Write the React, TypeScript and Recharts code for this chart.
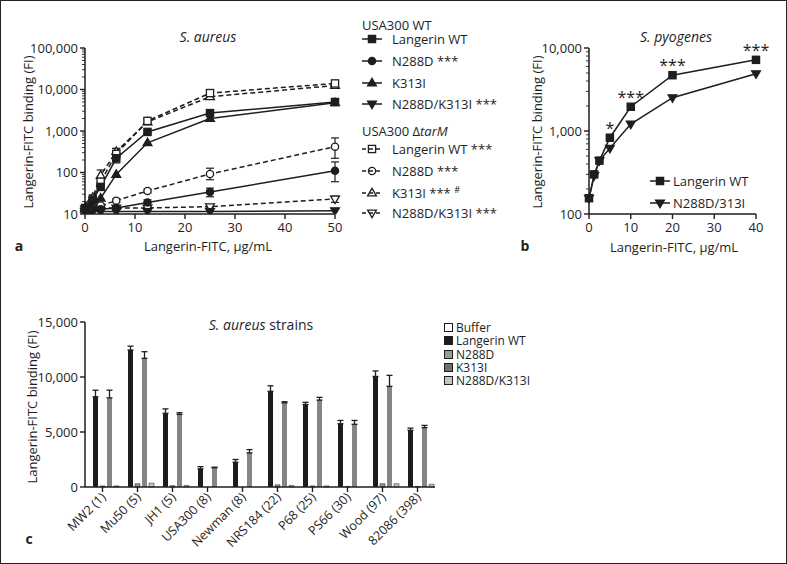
import React from 'react';
import { LineChart, Line, BarChart, Bar, XAxis, YAxis, ErrorBar, LabelList } from 'recharts';

const FONT = "'Open Sans', 'Noto Sans', sans-serif";
const INK = '#1e1e1e';

// ── panel a: S. aureus USA300 WT / ΔtarM titration ──
const aConc = [0, 0.78, 1.56, 3.13, 6.25, 12.5, 25, 50];
const usaWT = [13, 15, 22, 45, 220, 950, 2700, 5000];
const usaN288D = [13, 13, 13, 13, 14, 19, 34, 110];
const usaK313I = [13, 13, 15, 24, 90, 520, 2000, 4800];
const usaNK = [11.5, 11.5, 11.5, 11.5, 11.5, 11.5, 11.5, 12];
const tarWT = [14, 16, 22, 60, 280, 1750, 8200, 14000];
const tarN288D = [14, 14, 15, 16, 21, 36, 92, 420];
const tarK313I = [14, 17, 25, 85, 320, 1650, 6700, 12500];
const tarNK = [13, 13, 13, 14, 14, 14, 15, 23];
// [below, above]
const usaWTErr = [[0, 0], [0, 0], [2, 2], [8, 8], [50, 50], [80, 80], [300, 300], [400, 400]];
const usaN288DErr = [[0, 0], [0, 0], [0, 0], [0, 0], [1, 1], [3, 3], [8, 8], [50, 70]];
const tarWTErr = [[0, 0], [0, 0], [3, 3], [15, 15], [70, 100], [250, 250], [1200, 1200], [2000, 2500]];
const tarN288DErr = [[0, 0], [0, 0], [0, 0], [1, 1], [2, 2], [4, 4], [25, 35], [200, 260]];
const tarK313IErr = [[0, 0], [0, 0], [4, 4], [25, 30], [60, 60], [200, 200], [800, 800], [1500, 1500]];
const tarNKErr = [[0, 0], [0, 0], [0, 0], [0, 0], [0, 0], [0, 0], [1, 1], [4, 4]];

// ── panel b: S. pyogenes ──
const pyoConc = [0, 1.25, 2.5, 5, 10, 20, 40];
const pyoWT = [155, 300, 440, 830, 1960, 4700, 7200];
const pyoNK = [155, 290, 440, 620, 1210, 2520, 4900];
const pyoSig = ['', '', '', '*', '***', '***', '***'];

// ── panel c: S. aureus strains ──
const strains = ['MW2 (1)', 'Mu50 (5)', 'JH1 (5)', 'USA300 (8)', 'Newman (8)', 'NRS184 (22)', 'P68 (25)', 'PS66 (30)', 'Wood (97)', '82086 (398)'];
const cBuffer = [0, 0, 0, 0, 0, 0, 0, 0, 0, 0];
const cWT = [8200, 12450, 6700, 1650, 2250, 8700, 7500, 5750, 10050, 5150];
const cWTErr = [600, 350, 400, 200, 250, 500, 200, 300, 500, 200];
const cN288D = [100, 300, 120, 0, 0, 200, 100, 50, 300, 50];
const cK313I = [8100, 11700, 6600, 1750, 3100, 7650, 7900, 5700, 9150, 5400];
const cK313IErr = [700, 600, 150, 50, 300, 100, 250, 350, 1000, 200];
const cNK = [100, 350, 150, 0, 0, 150, 100, 0, 300, 250];

const aData = aConc.map((x, i) => ({
  x,
  usaWT: usaWT[i], usaN288D: usaN288D[i], usaK313I: usaK313I[i], usaNK: usaNK[i],
  tarWT: tarWT[i], tarN288D: tarN288D[i], tarK313I: tarK313I[i], tarNK: tarNK[i],
  usaWTErr: usaWTErr[i], usaN288DErr: usaN288DErr[i], tarWTErr: tarWTErr[i],
  tarN288DErr: tarN288DErr[i], tarK313IErr: tarK313IErr[i], tarNKErr: tarNKErr[i],
}));
const bData = pyoConc.map((x, i) => ({ x, wt: pyoWT[i], nk: pyoNK[i], sig: pyoSig[i] }));
const cData = strains.map((name, i) => ({
  name, buffer: cBuffer[i], wt: cWT[i], wtErr: [0, cWTErr[i]], n288d: cN288D[i],
  k313i: cK313I[i], k313iErr: [0, cK313IErr[i]], nk: cNK[i],
}));

const logTicks = (lo: number, hi: number) => {
  const out: number[] = [];
  for (let d = lo; d < hi; d *= 10) for (let m = 1; m < 10; m++) out.push(d * m);
  out.push(hi);
  return out;
};
const isMajor = (v: number) => Math.abs(Math.log10(v) - Math.round(Math.log10(v))) < 1e-6;
const fmt = (v: number) => v.toLocaleString('en-US');

function LogTick({ x, y, payload }: any) {
  const major = isMajor(payload.value);
  return (
    <g>
      <line x1={x - (major ? 5 : 3)} x2={x} y1={y} y2={y} stroke={INK} strokeWidth={major ? 1.4 : 0.9} />
      {major && (
        <text x={x - 7} y={y} dy={4.5} textAnchor="end" fontSize={13} fill={INK} fontFamily={FONT}>{fmt(payload.value)}</text>
      )}
    </g>
  );
}

function LinTickY({ x, y, payload }: any) {
  return (
    <g>
      <line x1={x - 5} x2={x} y1={y} y2={y} stroke={INK} strokeWidth={1.4} />
      <text x={x - 7} y={y} dy={4.5} textAnchor="end" fontSize={13} fill={INK} fontFamily={FONT}>{fmt(payload.value)}</text>
    </g>
  );
}

function TickX({ x, y, payload }: any) {
  return (
    <g>
      <line x1={x} x2={x} y1={y} y2={y + 5} stroke={INK} strokeWidth={1.4} />
      <text x={x} y={y + 18} textAnchor="middle" fontSize={13} fill={INK} fontFamily={FONT}>{payload.value}</text>
    </g>
  );
}

function StrainTick({ x, y, payload }: any) {
  return (
    <g>
      <line x1={x} x2={x} y1={y} y2={y + 5} stroke={INK} strokeWidth={1.4} />
      <text x={x + 4} y={y + 11} transform={`rotate(-45 ${x + 4} ${y + 11})`} textAnchor="end" fontSize={12.5} fill={INK} fontFamily={FONT}>
        {payload.value}
      </text>
    </g>
  );
}

type Shape = 'square' | 'circle' | 'tri' | 'itri';
function Mark({ cx, cy, shape, open, s = 3.6, fillOpen = '#fff' }: any) {
  if (cx == null || cy == null || isNaN(cy)) return null;
  const p = { fill: open ? fillOpen : INK, stroke: INK, strokeWidth: 1.3 };
  if (shape === 'square') return <rect x={cx - s} y={cy - s} width={2 * s} height={2 * s} {...p} />;
  if (shape === 'circle') return <circle cx={cx} cy={cy} r={s} {...p} />;
  if (shape === 'tri')
    return <polygon points={`${cx},${cy - s - 1} ${cx + s + 0.8},${cy + s * 0.8} ${cx - s - 0.8},${cy + s * 0.8}`} {...p} />;
  return <polygon points={`${cx},${cy + s + 1} ${cx + s + 0.8},${cy - s * 0.8} ${cx - s - 0.8},${cy - s * 0.8}`} {...p} />;
}

const dotFor = (id: string, shape: Shape, open = false) => (p: any) => (
  <Mark key={`${id}-${p.index}`} cx={p.cx} cy={p.cy} shape={shape} open={open} />
);

function LegendIcon({ shape, open }: { shape: Shape; open?: boolean }) {
  return (
    <svg width={22} height={12} style={{ display: 'block' }}>
      <line x1={1} x2={21} y1={6} y2={6} stroke={INK} strokeWidth={1.5} strokeDasharray={open ? '4 3' : undefined} />
      <Mark cx={11} cy={6} shape={shape} open={open} fillOpen="none" />
    </svg>
  );
}

const Txt = ({ x, y, children, size = 13, style = {} }: any) => (
  <div style={{ position: 'absolute', left: x, top: y, transform: 'translate(-50%, -50%)', fontSize: size, whiteSpace: 'nowrap', color: INK, ...style }}>
    {children}
  </div>
);
const YLabel = ({ x, y }: any) => (
  <div style={{ position: 'absolute', left: x, top: y, transform: 'translate(-50%, -50%) rotate(-90deg)', fontSize: 13, whiteSpace: 'nowrap', color: INK }}>
    Langerin-FITC binding (FI)
  </div>
);

const legendA: { label: React.ReactNode; shape: Shape; open?: boolean; y: number }[] = [
  { label: 'Langerin WT', shape: 'square', y: 38 },
  { label: 'N288D ***', shape: 'circle', y: 60 },
  { label: 'K313I', shape: 'tri', y: 82 },
  { label: 'N288D/K313I ***', shape: 'itri', y: 103 },
  { label: 'Langerin WT ***', shape: 'square', open: true, y: 148 },
  { label: 'N288D ***', shape: 'circle', open: true, y: 170 },
  { label: <>K313I *** <sup style={{ fontSize: 9 }}>#</sup></>, shape: 'tri', open: true, y: 192 },
  { label: 'N288D/K313I ***', shape: 'itri', open: true, y: 212 },
];

const C_BUF = '#ffffff';
const C_WT = '#1c1c1c';
const C_N288D = '#9a9a9a';
const C_K313I = '#858585';
const C_NK = '#c4c4c4';
const legendC = [
  { label: 'Buffer', color: C_BUF },
  { label: 'Langerin WT', color: C_WT },
  { label: 'N288D', color: C_N288D },
  { label: 'K313I', color: '#6e6e6e' },
  { label: 'N288D/K313I', color: C_NK },
];

const axisLine = { stroke: INK, strokeWidth: 1.5 };

export default function App() {
  return (
    <div style={{ position: 'absolute', left: 0, top: 0, width: 787, height: 564, background: '#fff', fontFamily: FONT, border: '1.5px solid #222', boxSizing: 'border-box', overflow: 'hidden' }}>
      {/* panel a */}
      <div style={{ position: 'absolute', left: -1.5, top: -1.5 }}>
        <LineChart width={345} height={260} data={aData} margin={{ top: 48, right: 10, left: 0, bottom: 16 }}>
          <XAxis dataKey="x" type="number" domain={[0, 50]} ticks={[0, 10, 20, 30, 40, 50]} height={30}
            axisLine={axisLine} tickLine={false} tickSize={0} tickMargin={0} tick={<TickX />} />
          <YAxis scale="log" domain={[10, 100000]} allowDataOverflow ticks={logTicks(10, 100000)} interval={0} width={85}
            axisLine={axisLine} tickLine={false} tickSize={0} tickMargin={0} tick={<LogTick />} />
          <Line dataKey="tarNK" stroke={INK} strokeWidth={1.5} strokeDasharray="5 3" dot={dotFor('tnk', 'itri', true)} isAnimationActive={false}>
            <ErrorBar dataKey="tarNKErr" direction="y" width={4} stroke={INK} strokeWidth={1.2} />
          </Line>
          <Line dataKey="usaNK" stroke={INK} strokeWidth={1.5} dot={dotFor('unk', 'itri')} isAnimationActive={false} />
          <Line dataKey="tarN288D" stroke={INK} strokeWidth={1.5} strokeDasharray="5 3" dot={dotFor('tn', 'circle', true)} isAnimationActive={false}>
            <ErrorBar dataKey="tarN288DErr" direction="y" width={4} stroke={INK} strokeWidth={1.2} />
          </Line>
          <Line dataKey="usaN288D" stroke={INK} strokeWidth={1.5} dot={dotFor('un', 'circle')} isAnimationActive={false}>
            <ErrorBar dataKey="usaN288DErr" direction="y" width={4} stroke={INK} strokeWidth={1.2} />
          </Line>
          <Line dataKey="tarK313I" stroke={INK} strokeWidth={1.5} strokeDasharray="5 3" dot={dotFor('tk', 'tri', true)} isAnimationActive={false}>
            <ErrorBar dataKey="tarK313IErr" direction="y" width={4} stroke={INK} strokeWidth={1.2} />
          </Line>
          <Line dataKey="usaK313I" stroke={INK} strokeWidth={1.5} dot={dotFor('uk', 'tri')} isAnimationActive={false} />
          <Line dataKey="tarWT" stroke={INK} strokeWidth={1.5} strokeDasharray="5 3" dot={dotFor('tw', 'square', true)} isAnimationActive={false}>
            <ErrorBar dataKey="tarWTErr" direction="y" width={4} stroke={INK} strokeWidth={1.2} />
          </Line>
          <Line dataKey="usaWT" stroke={INK} strokeWidth={1.5} dot={dotFor('uw', 'square')} isAnimationActive={false}>
            <ErrorBar dataKey="usaWTErr" direction="y" width={4} stroke={INK} strokeWidth={1.2} />
          </Line>
        </LineChart>
      </div>
      <Txt x={207} y={35} size={14} style={{ fontStyle: 'italic' }}>S. aureus</Txt>
      <Txt x={207} y={245}>Langerin-FITC, µg/mL</Txt>
      <YLabel x={27} y={131} />
      <Txt x={18} y={244} size={14} style={{ fontWeight: 700 }}>a</Txt>

      {/* panel a legend */}
      <div style={{ position: 'absolute', left: 361, top: 15, fontSize: 13, color: INK }}>USA300 WT</div>
      <div style={{ position: 'absolute', left: 361, top: 121, fontSize: 13, color: INK }}>
        USA300 Δ<i>tarM</i>
      </div>
      {legendA.map((it, i) => (
        <div key={i} style={{ position: 'absolute', left: 360, top: it.y - 9, height: 18, display: 'flex', alignItems: 'center', fontSize: 13, color: INK, whiteSpace: 'nowrap' }}>
          <LegendIcon shape={it.shape} open={it.open} />
          <span style={{ marginLeft: 9 }}>{it.label}</span>
        </div>
      ))}

      {/* panel b */}
      <div style={{ position: 'absolute', left: 508.5, top: -1.5 }}>
        <LineChart width={272} height={260} data={bData} margin={{ top: 48, right: 26, left: 0, bottom: 16 }}>
          <XAxis dataKey="x" type="number" domain={[0, 40]} ticks={[0, 10, 20, 30, 40]} height={30}
            axisLine={axisLine} tickLine={false} tickSize={0} tickMargin={0} tick={<TickX />} />
          <YAxis scale="log" domain={[100, 10000]} allowDataOverflow ticks={logTicks(100, 10000)} interval={0} width={79}
            axisLine={axisLine} tickLine={false} tickSize={0} tickMargin={0} tick={<LogTick />} />
          <Line dataKey="nk" stroke={INK} strokeWidth={1.5} dot={dotFor('bn', 'itri')} isAnimationActive={false} />
          <Line dataKey="wt" stroke={INK} strokeWidth={1.5} dot={dotFor('bw', 'square')} isAnimationActive={false}>
            <LabelList dataKey="sig" content={(p: any) => (
              <text key={`s${p.index}`} x={p.x} y={p.y - 4} textAnchor="middle" fontSize={16} fill={INK} fontFamily={FONT}>{p.value}</text>
            )} />
          </Line>
        </LineChart>
      </div>
      <Txt x={675} y={35} size={14} style={{ fontStyle: 'italic' }}>S. pyogenes</Txt>
      <Txt x={673} y={246}>Langerin-FITC, µg/mL</Txt>
      <YLabel x={536} y={131} />
      <Txt x={524} y={244} size={14} style={{ fontWeight: 700 }}>b</Txt>
      {[{ label: 'Langerin WT', shape: 'square' as Shape, y: 180 }, { label: 'N288D/313I', shape: 'itri' as Shape, y: 202 }].map((it) => (
        <div key={it.label} style={{ position: 'absolute', left: 648, top: it.y - 9, height: 18, display: 'flex', alignItems: 'center', fontSize: 13, color: INK, whiteSpace: 'nowrap' }}>
          <LegendIcon shape={it.shape} />
          <span style={{ marginLeft: 2 }}>{it.label}</span>
        </div>
      ))}

      {/* panel c */}
      <div style={{ position: 'absolute', left: -1.5, top: 298.5 }}>
        <BarChart width={441} height={260} data={cData} margin={{ top: 22, right: 6, left: 0, bottom: 3 }} barGap={2} barCategoryGap={1}>
          <XAxis dataKey="name" height={70} interval={0} axisLine={axisLine} tickLine={false} tickSize={0} tickMargin={0} tick={<StrainTick />} />
          <YAxis domain={[0, 15000]} ticks={[0, 5000, 10000, 15000]} width={85}
            axisLine={axisLine} tickLine={false} tickSize={0} tickMargin={0} tick={<LinTickY />} />
          <Bar dataKey="buffer" fill={C_BUF} stroke={INK} strokeWidth={0.8} barSize={5} isAnimationActive={false} />
          <Bar dataKey="wt" fill={C_WT} barSize={5} isAnimationActive={false}>
            <ErrorBar dataKey="wtErr" direction="y" width={3} stroke={INK} strokeWidth={1.3} />
          </Bar>
          <Bar dataKey="n288d" fill={C_N288D} stroke={INK} strokeWidth={0.5} barSize={5} isAnimationActive={false} />
          <Bar dataKey="k313i" fill={C_K313I} barSize={5} isAnimationActive={false}>
            <ErrorBar dataKey="k313iErr" direction="y" width={3} stroke={INK} strokeWidth={1.3} />
          </Bar>
          <Bar dataKey="nk" fill={C_NK} stroke={INK} strokeWidth={0.5} barSize={5} isAnimationActive={false} />
        </BarChart>
      </div>
      <Txt x={260} y={323} size={14}><i>S. aureus</i> strains</Txt>
      <YLabel x={31} y={406} />
      <Txt x={28} y={537} size={14} style={{ fontWeight: 700 }}>c</Txt>
      {legendC.map((it, i) => (
        <div key={it.label} style={{ position: 'absolute', left: 443, top: 320 + i * 13.3, height: 13, lineHeight: '13px', display: 'flex', alignItems: 'center', fontSize: 12, color: INK, whiteSpace: 'nowrap' }}>
          <span style={{ width: 9, height: 9, boxSizing: 'border-box', border: `1.5px solid ${INK}`, background: it.color, display: 'inline-block' }} />
          <span style={{ marginLeft: 3 }}>{it.label}</span>
        </div>
      ))}
    </div>
  );
}
